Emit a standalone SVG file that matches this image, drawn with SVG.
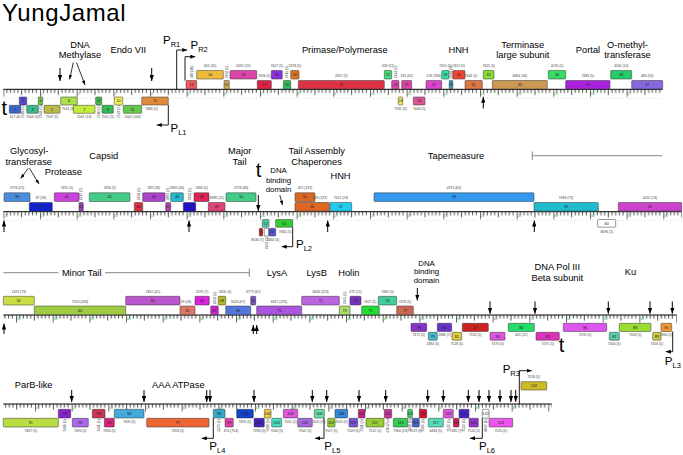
<svg xmlns="http://www.w3.org/2000/svg" width="683" height="455" viewBox="0 0 683 455">
<style>
text{font-family:"Liberation Sans",Arial,sans-serif}
#genes rect{stroke:#333;stroke-width:.5;rx:.8px}
.n{font-size:3.8px;text-anchor:middle;fill:#222}
.l{font-size:3.4px;text-anchor:middle;fill:#444}
.a{font-size:9.3px;text-anchor:middle;fill:#000}
.s{font-size:7.8px;text-anchor:middle;fill:#000}
.k{font-size:3.4px;fill:#3a3}
.t{font-size:20px;fill:#000}
.p{font-size:11.5px;fill:#000}
.ps{font-size:7.5px}
.ar{stroke:#000;stroke-width:1;fill:none;marker-end:url(#ah)}
.pt{stroke:#000;stroke-width:.8;fill:none;marker-end:url(#sh)}
.pr{stroke:#000;stroke-width:.9;fill:none;marker-end:url(#ph)}
.br{stroke:#888;stroke-width:1;fill:none}
.rl{stroke:#000;stroke-width:1}
.w{fill:#fff}
</style>
<defs>
<marker id="ah" markerUnits="userSpaceOnUse" markerWidth="6" markerHeight="4.4" refX="6" refY="2.2" orient="auto"><path d="M0,0L6,2.2L0,4.4z" fill="#000"/></marker>
<marker id="sh" markerUnits="userSpaceOnUse" markerWidth="4.5" markerHeight="3.4" refX="4.5" refY="1.7" orient="auto"><path d="M0,0L4.5,1.7L0,3.4z" fill="#000"/></marker>
<marker id="ph" markerUnits="userSpaceOnUse" markerWidth="5" markerHeight="4" refX="5" refY="2" orient="auto"><path d="M0,0L5,2L0,4z" fill="#000"/></marker>
<pattern id="tk" patternUnits="userSpaceOnUse" width="36.667" height="9">
<path d="M0.35,0V7.5M3.67,0V3.6M7.33,0V3.6M11,0V3.6M14.67,0V3.6M18.33,0V5.6M22,0V3.6M25.67,0V3.6M29.33,0V3.6M33,0V3.6" stroke="#000" stroke-width=".7"/>
</pattern>
</defs>
<rect width="683" height="455" fill="#fff"/>
<text x="2" y="20.5" font-size="24" letter-spacing="0.6">YungJamal</text>

<g id="rulers">
<g transform="translate(3.3,89.3)"><rect x="0" y="0" width="659.4" height="9" fill="url(#tk)"/><line class="rl" x1="0" x2="659.4" y1="0" y2="0"/></g>
<g transform="translate(3.3,211.7)"><rect x="0" y="0" width="678.4" height="9" fill="url(#tk)"/><line class="rl" x1="0" x2="678.4" y1="0" y2="0"/></g>
<g transform="translate(16,315)"><rect x="-12.7" y="0" width="673.4" height="9" fill="url(#tk)"/><line class="rl" x1="-12.7" x2="660.7" y1="0" y2="0"/></g>
<g transform="translate(35,404)"><rect x="-31.7" y="0" width="548.4" height="9" fill="url(#tk)"/><line class="rl" x1="-31.7" x2="516.7" y1="0" y2="0"/></g>
<g class="k">
<text x="40.8" y="94.5">1</text><text x="77.4" y="94.5">2</text><text x="114.1" y="94.5">3</text><text x="150.8" y="94.5">4</text><text x="187.4" y="94.5">5</text><text x="224.1" y="94.5">6</text><text x="260.8" y="94.5">7</text><text x="297.4" y="94.5">8</text><text x="334.1" y="94.5">9</text><text x="370.8" y="94.5">10</text><text x="407.4" y="94.5">11</text><text x="444.1" y="94.5">12</text><text x="480.8" y="94.5">13</text><text x="517.4" y="94.5">14</text><text x="554.1" y="94.5">15</text><text x="590.8" y="94.5">16</text><text x="627.4" y="94.5">17</text>
<text x="4.1" y="216.9">18</text><text x="40.8" y="216.9">19</text><text x="77.4" y="216.9">20</text><text x="114.1" y="216.9">21</text><text x="150.8" y="216.9">22</text><text x="187.4" y="216.9">23</text><text x="224.1" y="216.9">24</text><text x="260.8" y="216.9">25</text><text x="297.4" y="216.9">26</text><text x="334.1" y="216.9">27</text><text x="370.8" y="216.9">28</text><text x="407.4" y="216.9">29</text><text x="444.1" y="216.9">30</text><text x="480.8" y="216.9">31</text><text x="517.4" y="216.9">32</text><text x="554.1" y="216.9">33</text><text x="590.8" y="216.9">34</text><text x="627.4" y="216.9">35</text><text x="664.1" y="216.9">36</text>
<text x="16.8" y="320.2">37</text><text x="53.5" y="320.2">38</text><text x="90.1" y="320.2">39</text><text x="126.8" y="320.2">40</text><text x="163.5" y="320.2">41</text><text x="200.1" y="320.2">42</text><text x="236.8" y="320.2">43</text><text x="273.5" y="320.2">44</text><text x="310.1" y="320.2">45</text><text x="346.8" y="320.2">46</text><text x="383.5" y="320.2">47</text><text x="420.1" y="320.2">48</text><text x="456.8" y="320.2">49</text><text x="493.5" y="320.2">50</text><text x="530.1" y="320.2">51</text><text x="566.8" y="320.2">52</text><text x="603.5" y="320.2">53</text><text x="640.1" y="320.2">54</text>
<text x="35.8" y="409.2">56</text><text x="72.5" y="409.2">57</text><text x="109.1" y="409.2">58</text><text x="145.8" y="409.2">59</text><text x="182.5" y="409.2">60</text><text x="219.1" y="409.2">61</text><text x="255.8" y="409.2">62</text><text x="292.5" y="409.2">63</text><text x="329.1" y="409.2">64</text><text x="365.8" y="409.2">65</text><text x="402.5" y="409.2">66</text><text x="439.1" y="409.2">67</text><text x="475.8" y="409.2">68</text><text x="512.5" y="409.2">69</text>
</g>
</g>

<g id="genes">
<g id="g1"><rect x="9.3" y="105.3" width="11.4" height="8" fill="#3a66cc"/><text class="n" x="15" y="110.6">1</text><text class="l" x="15" y="118.3">417 (4)</text></g>
<g id="g2"><rect x="19.3" y="97" width="7.4" height="8" fill="#5548cc"/><text class="n" x="23" y="102.3">2</text><text class="l" transform="translate(24.2,111.8) rotate(-90)">7489 (5)</text></g>
<g id="g3"><rect x="26.7" y="105.3" width="11.6" height="8" fill="#3dba8c"/><text class="n" x="32.5" y="110.6">3</text><text class="l" x="32.5" y="118.3">7504 (5)</text></g>
<g id="g4"><rect x="38.3" y="97" width="4.4" height="8" fill="#6ccc44"/><text class="n" x="40.5" y="102.3">4</text><text class="l" transform="translate(41.7,111.8) rotate(-90)">7504 (5)</text></g>
<g id="g5"><rect x="44" y="105.3" width="16" height="8" fill="#bcbb4a"/><text class="n" x="52" y="110.6">5</text><text class="l" x="52" y="118.3">7507 (5)</text></g>
<g id="g6"><rect x="60.7" y="97" width="16.6" height="8" fill="#addf4a"/><text class="n" x="69" y="102.3">6</text><text class="l" x="68" y="109.8">7541 (3)</text></g>
<g id="g7"><rect x="73.3" y="105.3" width="21.7" height="8" fill="#c4ec3a"/><text class="n" x="84.2" y="110.6">7</text><text class="l" x="84.2" y="118.3">1561 (13)</text></g>
<g id="g8"><rect x="95.7" y="97" width="6" height="8" fill="#43b84a"/><text class="n" x="98.7" y="102.3">8</text><text class="l" transform="translate(99.9,111.8) rotate(-90)">7490 (5)</text></g>
<g id="g9"><rect x="102" y="105.3" width="11.3" height="8" fill="#34bb55"/><text class="n" x="107.7" y="110.6">9</text><text class="l" x="107.7" y="118.3">7501 (5)</text></g>
<g id="g10"><rect x="114.3" y="97" width="8.4" height="8" fill="#eeee55"/><text class="n" x="118.5" y="102.3">10</text><text class="l" transform="translate(119.7,111.8) rotate(-90)">7527 (5)</text></g>
<g id="g11"><rect x="123.3" y="105.3" width="18.4" height="8" fill="#66c84a"/><text class="n" x="132.5" y="110.6">11</text><text class="l" x="132.5" y="118.3">1502 (100)</text></g>
<g id="g12"><rect x="141.7" y="97" width="26.6" height="8" fill="#dd8a3a"/><text class="n" x="155" y="102.3">12</text><text class="l" x="151.5" y="109.8">7484 (5)</text></g>
<g id="g13"><rect x="186" y="80.5" width="10.7" height="8.5" fill="#ee5a5a"/><text class="n" x="191.3" y="86.1">13</text><text class="l" transform="translate(192.5,72) rotate(-90)">440 (40)</text></g>
<g id="g14"><rect x="196.7" y="70.5" width="26.6" height="8.5" fill="#efbb3a"/><text class="n" x="210" y="76.1">14</text><text class="l" x="210" y="67.3">441 (45)</text></g>
<g id="g15"><rect x="224" y="80.5" width="5.3" height="8.5" fill="#ccaa5a"/><text class="n" x="226.6" y="86.1">15</text><text class="l" transform="translate(227.9,72) rotate(-90)">7492 (5)</text></g>
<g id="g16"><rect x="230" y="70.5" width="26.7" height="8.5" fill="#dd44aa"/><text class="n" x="243.3" y="76.1">16</text><text class="l" x="243.3" y="67.3">4292 (15)</text></g>
<g id="g17"><rect x="257.3" y="80.5" width="14" height="8.5" fill="#dd2244"/><text class="n" x="264.3" y="86.1">17</text><text class="l" x="264.3" y="77.3">7436 (5)</text></g>
<g id="g18"><rect x="271.3" y="70.5" width="11" height="8.5" fill="#8a33dd"/><text class="n" x="276.8" y="76.1">18</text><text class="l" x="276.8" y="67.3">7407 (5)</text></g>
<g id="g19"><rect x="283.3" y="80.5" width="7.4" height="8.5" fill="#33bb55"/><text class="n" x="287" y="86.1">19</text><text class="l" transform="translate(288.2,72) rotate(-90)">7415 (5)</text></g>
<g id="g20"><rect x="290.7" y="70.5" width="8.3" height="8.5" fill="#dd7722"/><text class="n" x="294.8" y="76.1">20</text><text class="l" x="294.8" y="67.3">7418 (5)</text></g>
<g id="g21"><rect x="298.3" y="80.5" width="86" height="8.5" fill="#dd3344"/><text class="n" x="341.3" y="86.1">21</text><text class="l" x="341.3" y="77.3">2367 (5)</text></g>
<g id="g22"><rect x="384.3" y="70.5" width="7.4" height="8.5" fill="#44dd77"/><text class="n" x="388" y="76.1">22</text><text class="l" x="388" y="67.3">458 (11)</text></g>
<g id="g23"><rect x="391.7" y="80.5" width="7.3" height="8.5" fill="#dd44aa"/><text class="n" x="395.3" y="86.1">23</text><text class="l" transform="translate(396.5,72) rotate(-90)">7443 (5)</text></g>
<g id="g24"><rect x="398.3" y="97" width="4.4" height="8" fill="#eeee55"/><text class="n" x="400.5" y="102.3">24</text><text class="l" x="400.5" y="109.8">7331 (3)</text></g>
<g id="g25"><rect x="401.7" y="80.5" width="10" height="8.5" fill="#dd44aa"/><text class="n" x="406.7" y="86.1">25</text><text class="l" x="406.7" y="77.3">135 (32)</text></g>
<g id="g26"><rect x="413.3" y="97" width="11.7" height="8" fill="#dd5599"/><text class="n" x="419.2" y="102.3">26</text><text class="l" x="419.2" y="109.8">7446 (5)</text></g>
<g id="g27"><rect x="426" y="80.5" width="15.7" height="8.5" fill="#dd44cc"/><text class="n" x="433.8" y="86.1">27</text><text class="l" x="433.8" y="77.3">476 (784)</text></g>
<g id="g28"><rect x="441.7" y="70.5" width="7.3" height="8.5" fill="#33ddaa"/><text class="n" x="445.3" y="76.1">28</text><text class="l" x="445.3" y="67.3">7451 (5)</text></g>
<g id="g29"><rect x="449.2" y="80.5" width="3.6" height="8.5" fill="#3399bb"/><text class="n" x="451" y="86.1">29</text><text class="l" transform="translate(452.2,72) rotate(-90)">7448 (5)</text></g>
<g id="g30"><rect x="452.7" y="70.5" width="12.3" height="8.5" fill="#ee4433"/><text class="n" x="458.8" y="76.1">30</text><text class="l" x="458.8" y="67.3">7452 (5)</text></g>
<g id="g31"><rect x="465" y="80.5" width="17.3" height="8.5" fill="#dd7744"/><text class="n" x="473.6" y="86.1">31</text><text class="l" x="471" y="77.3">7444 (5)</text></g>
<g id="g32"><rect x="483.3" y="70.5" width="10.7" height="8.5" fill="#88dd33"/><text class="n" x="488.7" y="76.1">32</text><text class="l" x="488.7" y="67.3">7455 (5)</text></g>
<g id="g33"><rect x="492.3" y="80.5" width="55" height="8.5" fill="#cc9955"/><text class="n" x="519.8" y="86.1">33</text><text class="l" x="519.8" y="77.3">6864 (34)</text></g>
<g id="g34"><rect x="548.3" y="70.5" width="17.4" height="8.5" fill="#33dd66"/><text class="n" x="557" y="76.1">34</text><text class="l" x="557" y="67.3">2070 (5)</text></g>
<g id="g35"><rect x="565.7" y="80.5" width="44.3" height="8.5" fill="#aa22dd"/><text class="n" x="587.8" y="86.1">35</text><text class="l" x="587.8" y="77.3">7486 (5)</text></g>
<g id="g36"><rect x="610.7" y="70.5" width="21" height="8.5" fill="#22cc66"/><text class="n" x="621.2" y="76.1">36</text><text class="l" x="621.2" y="67.3">4160 (14)</text></g>
<g id="g37"><rect x="631.7" y="80.5" width="31" height="8.5" fill="#8866dd"/><text class="n" x="647.2" y="86.1">37</text><text class="l" x="647.2" y="77.3">486 (16)</text></g>
<g id="g38"><rect x="4" y="192.8" width="26" height="8.7" fill="#4a8ddd"/><text class="n" x="17" y="198.4">38</text><text class="l" x="17" y="189">1976 (21)</text></g>
<g id="g39"><rect x="29.3" y="202.5" width="23" height="8.7" fill="#1122cc"/><text class="n" x="40.8" y="208.1">39</text><text class="l" x="41" y="199">87 (58)</text></g>
<g id="g40"><rect x="54.3" y="192.8" width="24.7" height="8.7" fill="#cc44dd"/><text class="n" x="66.7" y="198.4">40</text><text class="l" x="66.7" y="189">7455 (5)</text></g>
<g id="g41"><rect x="79" y="202.5" width="4.3" height="8.7" fill="#9944bb"/><text class="n" x="81.2" y="208.1">41</text><text class="l" transform="translate(82.4,194) rotate(-90)">2217 (7)</text></g>
<g id="g42"><rect x="89.3" y="192.8" width="40.7" height="8.7" fill="#44cc88"/><text class="n" x="109.7" y="198.4">42</text><text class="l" x="109.7" y="189">7490 (5)</text></g>
<g id="g43"><rect x="134.3" y="202.5" width="8.4" height="8.7" fill="#dd3344"/><text class="n" x="138.5" y="208.1">43</text><text class="l" transform="translate(139.7,194) rotate(-90)">7493 (5)</text></g>
<g id="g44"><rect x="142.7" y="192.8" width="22.3" height="8.7" fill="#aa44cc"/><text class="n" x="153.8" y="198.4">44</text><text class="l" x="153.8" y="189">339 (28)</text></g>
<g id="g45"><rect x="165.7" y="202.5" width="5" height="8.7" fill="#bb44bb"/><text class="n" x="168.2" y="208.1">45</text><text class="l" transform="translate(169.4,194) rotate(-90)">4887 (7)</text></g>
<g id="g46"><rect x="170.7" y="192.8" width="12.6" height="8.7" fill="#22bbcc"/><text class="n" x="177" y="198.4">46</text><text class="l" x="177" y="189">1890 (30)</text></g>
<g id="g47"><rect x="183.3" y="202.5" width="12.4" height="8.7" fill="#2211cc"/><text class="n" x="189.5" y="208.1">47</text><text class="l" transform="translate(190.7,194) rotate(-90)">7493 (5)</text></g>
<g id="g48"><rect x="194" y="192.8" width="15" height="8.7" fill="#dd2255"/><text class="n" x="201.5" y="198.4">48</text><text class="l" x="201.5" y="189">7463 (5)</text></g>
<g id="g49"><rect x="208.3" y="202.5" width="16.7" height="8.7" fill="#dd4477"/><text class="n" x="216.7" y="208.1">49</text><text class="l" x="217" y="199">8885 (11)</text></g>
<g id="g50"><rect x="226" y="192.8" width="30" height="8.7" fill="#44cc88"/><text class="n" x="241" y="198.4">50</text><text class="l" x="241" y="189">1978 (48)</text></g>
<g id="g51"><rect x="259.3" y="228.3" width="3.4" height="7.7" fill="#cc2222"/><text class="n" x="261" y="233.4">51</text><text class="l" x="257.5" y="240.5">8530 (7)</text></g>
<g id="g52"><rect x="262.3" y="219.5" width="6.7" height="7.7" fill="#55ccaa"/><text class="n" x="265.7" y="224.6">52</text></g>
<g id="g53"><rect class="w" x="264.3" y="228.3" width="4.3" height="7.7"/><text class="l" transform="translate(267.6,243) rotate(-90)">7463 (5)</text></g>
<g id="g53b"><rect x="269" y="228.3" width="6.7" height="7.7" fill="#5555dd"/><text class="n" x="272.3" y="233.4">53</text><text class="l" x="273" y="240.5">7464 (5)</text></g>
<g id="g54"><rect x="275.7" y="219.5" width="17" height="7.7" fill="#33cc33"/><text class="n" x="284.2" y="224.6">54</text><text class="l" x="285" y="232.7">7465 (5)</text></g>
<g id="g55"><rect x="295" y="192.8" width="20" height="8.7" fill="#dd6622"/><text class="n" x="305" y="198.4">55</text><text class="l" x="305" y="189">491 (137)</text></g>
<g id="g56"><rect x="295" y="202.5" width="34.3" height="8.7" fill="#dd6622"/><text class="n" x="312" y="208.1">56</text><text class="l" x="320" y="199">458 (137)</text></g>
<g id="g57"><rect x="330" y="202.5" width="21.7" height="8.7" fill="#22ccee"/><text class="n" x="340.8" y="208.1">57</text><text class="l" x="341" y="199">7501 (13)</text></g>
<g id="g58"><rect x="374" y="192.8" width="160" height="8.7" fill="#3399ee"/><text class="n" x="454" y="198.4">58</text><text class="l" x="454" y="189">4791 (65)</text></g>
<g id="g59"><rect x="534" y="202.5" width="64.3" height="8.7" fill="#22bbcc"/><text class="n" x="566" y="208.1">59</text><text class="l" x="566" y="199">1984 (73)</text></g>
<g id="g60"><rect class="w" x="597.7" y="219.5" width="18" height="7.7"/><text class="n" x="606.7" y="224.6">60</text><text class="l" x="606.7" y="232.7">8096 (1)</text></g>
<g id="g61"><rect x="618.3" y="202.5" width="63.4" height="8.7" fill="#cc44cc"/><text class="n" x="650" y="208.1">61</text><text class="l" x="650" y="199">4050 (74)</text></g>
<g id="g62"><rect x="3.3" y="296.3" width="31" height="8.7" fill="#ccdd44"/><text class="n" x="18.8" y="301.9">62</text><text class="l" x="18.8" y="292.5">1424 (73)</text></g>
<g id="g63"><rect x="34.3" y="306" width="91.4" height="8.7" fill="#a0cc44"/><text class="n" x="80" y="311.6">63</text><text class="l" x="80" y="302.5">7543 (358)</text></g>
<g id="g64"><rect x="125.7" y="296.3" width="54.3" height="8.7" fill="#bb55cc"/><text class="n" x="152.8" y="301.9">64</text><text class="l" x="152.8" y="292.5">1855 (41)</text></g>
<g id="g65"><rect x="180" y="306" width="15" height="8.7" fill="#dd7766"/><text class="n" x="187.5" y="311.6">65</text><text class="l" x="186" y="302.5">29 (43)</text></g>
<g id="g66"><rect x="195" y="296.3" width="14.3" height="8.7" fill="#dd22dd"/><text class="n" x="202" y="301.9">66</text><text class="l" x="202" y="292.5">2379 (7)</text></g>
<g id="g67"><rect x="210.7" y="306" width="7.6" height="8.7" fill="#cc22cc"/><text class="n" x="214.5" y="311.6">67</text><text class="l" transform="translate(215.7,298) rotate(-90)">2369 (5)</text></g>
<g id="g68"><rect x="218.3" y="296.3" width="7.4" height="8.7" fill="#bbbb22"/><text class="n" x="222" y="301.9">68</text><text class="l" x="225" y="292.5">1856 (3)</text></g>
<g id="g69"><rect x="225.7" y="306" width="25" height="8.7" fill="#5577dd"/><text class="n" x="238.2" y="311.6">69</text><text class="l" x="238" y="302.5">1626 (67)</text></g>
<g id="g70"><rect x="250.7" y="296.3" width="5" height="8.7" fill="#7755cc"/><text class="n" x="253.2" y="301.9">70</text><text class="l" x="253.5" y="292.5">6779 (67)</text></g>
<g id="g71"><rect x="256.7" y="306" width="45" height="8.7" fill="#aa55dd"/><text class="n" x="279.2" y="311.6">71</text><text class="l" x="279" y="302.5">6821 (295)</text></g>
<g id="g72"><rect x="301.7" y="296.3" width="37.6" height="8.7" fill="#bb66dd"/><text class="n" x="320.5" y="301.9">72</text><text class="l" x="320.5" y="292.5">3634 (223)</text></g>
<g id="g73"><rect x="339.3" y="306" width="10.7" height="8.7" fill="#aadd66"/><text class="n" x="344.6" y="311.6">73</text><text class="l" transform="translate(345.7,298) rotate(-90)">7465 (5)</text></g>
<g id="g74"><rect x="350" y="296.3" width="11" height="8.7" fill="#7733bb"/><text class="n" x="355.5" y="301.9">74</text><text class="l" x="355.5" y="292.5">475 (11)</text></g>
<g id="g75"><rect x="361.7" y="306" width="17.6" height="8.7" fill="#22dd33"/><text class="n" x="370.5" y="311.6">75</text><text class="l" x="370" y="302.5">7407 (5)</text></g>
<g id="g76"><rect x="378.3" y="296.3" width="18.4" height="8.7" fill="#44cc99"/><text class="n" x="387.5" y="301.9">76</text><text class="l" x="387.5" y="292.5">7469 (5)</text></g>
<g id="g77"><rect x="396.7" y="306" width="16.6" height="8.7" fill="#cc6655"/><text class="n" x="405" y="311.6">77</text><text class="l" x="405" y="302.5">7476 (5)</text></g>
<g id="g78"><rect x="411" y="323.3" width="15.7" height="8.2" fill="#8833cc"/><text class="n" x="418.8" y="328.7">78</text><text class="l" x="418.8" y="336">7472 (5)</text></g>
<g id="g79"><rect x="428.3" y="332.3" width="9" height="7.9" fill="#44bbcc"/><text class="n" x="432.8" y="337.5">79</text><text class="l" x="432.8" y="344.7">2384 (5)</text></g>
<g id="g80"><rect x="437.3" y="323.3" width="14.4" height="8.2" fill="#6633cc"/><text class="n" x="444.5" y="328.7">80</text><text class="l" x="444.5" y="336">2386 (7)</text></g>
<g id="g81"><rect x="452" y="332.3" width="9.7" height="7.9" fill="#ddcc44"/><text class="n" x="456.8" y="337.5">81</text><text class="l" x="456.8" y="344.7">7528 (5)</text></g>
<g id="g82"><rect x="462.3" y="323.3" width="26" height="8.2" fill="#cc2222"/><text class="n" x="475.3" y="328.7">82</text><text class="l" x="475.3" y="336">7532 (5)</text></g>
<g id="g83"><rect x="490" y="332.3" width="15" height="7.9" fill="#dd55dd"/><text class="n" x="497.5" y="337.5">83</text><text class="l" x="497.5" y="344.7">7473 (5)</text></g>
<g id="g84"><rect x="508.3" y="323.3" width="26" height="8.2" fill="#22dd66"/><text class="n" x="521.3" y="328.7">84</text><text class="l" x="521.3" y="336">405 (12)</text></g>
<g id="g85"><rect x="536" y="332.3" width="23.3" height="7.9" fill="#dd33bb"/><text class="n" x="547.7" y="337.5">85</text><text class="l" x="547.7" y="344.7">7475 (5)</text></g>
<g id="g86"><rect x="563.3" y="323.3" width="43.4" height="8.2" fill="#dd55ee"/><text class="n" x="585" y="328.7">86</text><text class="l" x="585" y="336">7476 (5)</text></g>
<g id="g87"><rect x="609.3" y="332.3" width="10" height="7.9" fill="#55ccaa"/><text class="n" x="614.3" y="337.5">87</text><text class="l" x="614.3" y="344.7">7440 (5)</text></g>
<g id="g88"><rect x="619.3" y="323.3" width="31.7" height="8.2" fill="#99dd33"/><text class="n" x="635.2" y="328.7">88</text><text class="l" x="635.2" y="336">7403 (5)</text></g>
<g id="g89"><rect x="652.7" y="332.3" width="8.3" height="7.9" fill="#cccc44"/><text class="n" x="656.8" y="337.5">89</text><text class="l" x="656.8" y="344.7">7456 (5)</text></g>
<g id="g90"><rect x="661" y="323.3" width="10.7" height="8.2" fill="#ee9933"/><text class="n" x="666.3" y="328.7">90</text><text class="l" x="666.3" y="336">7460 (5)</text></g>
<g id="g91"><rect x="3.3" y="418.3" width="55" height="8.7" fill="#bbdd44"/><text class="n" x="30.8" y="423.9">91</text><text class="l" x="30.8" y="432">7467 (5)</text></g>
<g id="g92"><rect x="58.3" y="409.3" width="12.4" height="8.7" fill="#8822cc"/><text class="n" x="64.5" y="414.9">92</text><text class="l" transform="translate(65.7,425.5) rotate(-90)">7489 (5)</text></g>
<g id="g93"><rect x="72.3" y="418.3" width="16" height="8.7" fill="#aa66ee"/><text class="n" x="80.3" y="423.9">93</text><text class="l" x="80.3" y="432">7490 (5)</text></g>
<g id="g94"><rect x="92.3" y="409.3" width="12.7" height="8.7" fill="#cc3355"/><text class="n" x="98.7" y="414.9">94</text><text class="l" transform="translate(99.9,425.5) rotate(-90)">7491 (5)</text></g>
<g id="g95"><rect x="104.3" y="418.3" width="10" height="8.7" fill="#dd2277"/><text class="n" x="109.3" y="423.9">95</text><text class="l" x="109.3" y="432">7490 (5)</text></g>
<g id="g96"><rect x="114.3" y="409.3" width="29.7" height="8.7" fill="#44aadd"/><text class="n" x="129.2" y="414.9">96</text><text class="l" x="129.2" y="422.7">7409 (5)</text></g>
<g id="g97"><rect x="146.7" y="418.3" width="62.3" height="8.7" fill="#ee6633"/><text class="n" x="177.8" y="423.9">97</text><text class="l" x="177.8" y="432">7494 (5)</text></g>
<g id="g98"><rect x="213.3" y="409.3" width="11.7" height="8.7" fill="#33aacc"/><text class="n" x="219.2" y="414.9">98</text><text class="l" transform="translate(220.4,425.5) rotate(-90)">2373 (7)</text></g>
<g id="g99"><rect x="225" y="418.3" width="8.3" height="8.7" fill="#dd44aa"/><text class="n" x="229.2" y="423.9">99</text><text class="l" x="231" y="432">470 (754)</text></g>
<g id="g100"><rect x="236.7" y="409.3" width="16.6" height="8.7" fill="#1144cc"/><text class="n" x="245" y="414.9">100</text><text class="l" x="245" y="422.7">7495 (5)</text></g>
<g id="g101"><rect x="254" y="418.3" width="10.3" height="8.7" fill="#4422bb"/><text class="n" x="259.2" y="423.9">101</text><text class="l" x="259.2" y="432">7496 (5)</text></g>
<g id="g102"><rect x="264.3" y="409.3" width="6.7" height="8.7" fill="#eecc44"/><text class="n" x="267.7" y="414.9">102</text><text class="l" transform="translate(268.9,425.5) rotate(-90)">7499 (5)</text></g>
<g id="g103"><rect x="271.7" y="418.3" width="10" height="8.7" fill="#44ddbb"/><text class="n" x="276.7" y="423.9">103</text><text class="l" x="276.7" y="432">7500 (5)</text></g>
<g id="g104"><rect x="283.3" y="409.3" width="14.4" height="8.7" fill="#dd55dd"/><text class="n" x="290.5" y="414.9">104</text><text class="l" x="290.5" y="422.7">7501 (5)</text></g>
<g id="g105"><rect x="297.7" y="418.3" width="14.6" height="8.7" fill="#aa66dd"/><text class="n" x="305" y="423.9">105</text><text class="l" x="305" y="432">7502 (5)</text></g>
<g id="g106"><rect x="314.3" y="409.3" width="10" height="8.7" fill="#66ddaa"/><text class="n" x="319.3" y="414.9">106</text><text class="l" x="319.3" y="422.7">424 (10)</text></g>
<g id="g107"><rect x="327.7" y="418.3" width="7.3" height="8.7" fill="#99cc33"/><text class="n" x="331.3" y="423.9">107</text><text class="l" x="331.3" y="432">7507 (5)</text></g>
<g id="g108"><rect x="335" y="409.3" width="12.7" height="8.7" fill="#3388dd"/><text class="n" x="341.3" y="414.9">108</text><text class="l" x="341.3" y="422.7">7505 (5)</text></g>
<g id="g109"><rect x="349" y="418.3" width="8.7" height="8.7" fill="#7755dd"/><text class="n" x="353.3" y="423.9">109</text><text class="l" x="353.3" y="432">7509 (5)</text></g>
<g id="g110"><rect x="358.3" y="409.3" width="6.7" height="8.7" fill="#cc2288"/><text class="n" x="361.7" y="414.9">110</text><text class="l" transform="translate(362.9,425.5) rotate(-90)">7511 (5)</text></g>
<g id="g111"><rect x="366" y="418.3" width="18" height="8.7" fill="#99cc33"/><text class="n" x="375" y="423.9">111</text><text class="l" x="375" y="432">7512 (5)</text></g>
<g id="g112"><rect x="384.3" y="409.3" width="7.4" height="8.7" fill="#cc3399"/><text class="n" x="388" y="414.9">112</text><text class="l" transform="translate(389.2,425.5) rotate(-90)">470 (754)</text></g>
<g id="g113"><rect x="393.3" y="418.3" width="14.4" height="8.7" fill="#33cc55"/><text class="n" x="400.5" y="423.9">113</text><text class="l" x="400.5" y="432">7360 (15)</text></g>
<g id="g114"><rect x="407.7" y="409.3" width="4.6" height="8.7" fill="#44cc66"/><text class="n" x="410" y="414.9">114</text><text class="l" transform="translate(411.2,425.5) rotate(-90)">7518 (5)</text></g>
<g id="g115"><rect x="412.3" y="418.3" width="7" height="8.7" fill="#4466cc"/><text class="n" x="415.8" y="423.9">115</text><text class="l" x="415.8" y="432">7519 (5)</text></g>
<g id="g116"><rect x="419.3" y="409.3" width="7.4" height="8.7" fill="#dd1133"/><text class="n" x="423" y="414.9">116</text><text class="l" transform="translate(424.2,425.5) rotate(-90)">7505 (5)</text></g>
<g id="g117"><rect x="428.3" y="418.3" width="15" height="8.7" fill="#55ddbb"/><text class="n" x="435.8" y="423.9">117</text><text class="l" x="435.8" y="432">6484 (5)</text></g>
<g id="g118"><rect x="443.3" y="409.3" width="10" height="8.7" fill="#dd55dd"/><text class="n" x="448.3" y="414.9">118</text><text class="l" transform="translate(449.5,425.5) rotate(-90)">7522 (5)</text></g>
<g id="g119"><rect x="453.3" y="418.3" width="5.7" height="8.7" fill="#cc2255"/><text class="n" x="456.2" y="423.9">119</text><text class="l" x="456" y="432">7381 (7)</text></g>
<g id="g120"><rect x="459" y="409.3" width="10" height="8.7" fill="#4422cc"/><text class="n" x="464" y="414.9">120</text><text class="l" transform="translate(465.2,425.5) rotate(-90)">7523 (5)</text></g>
<g id="g121"><rect x="469" y="418.3" width="9.3" height="8.7" fill="#9933cc"/><text class="n" x="473.7" y="423.9">121</text><text class="l" x="473.7" y="432">7524 (5)</text></g>
<g id="g122"><rect class="w" x="482.3" y="409.3" width="6.7" height="8.7"/><text class="n" x="485.7" y="414.9">122</text><text class="l" transform="translate(486.9,425.5) rotate(-90)">8097 (1)</text></g>
<g id="g123"><rect x="489" y="418.3" width="23.7" height="8.7" fill="#ee55ee"/><text class="n" x="500.8" y="423.9">123</text><text class="l" x="500.8" y="432">7525 (5)</text></g>
<g id="g124"><rect x="521" y="381.7" width="25.7" height="8.3" fill="#ccbb22"/><text class="n" x="533.8" y="387.1">124</text><text class="l" x="533.8" y="378">7526 (5)</text></g>
</g>

<g id="labels">
<text class="a" x="80" y="48.3">DNA</text><text class="a" x="80" y="57.7">Methylase</text>
<text class="a" x="128.3" y="53.3">Endo VII</text>
<text class="a" x="344.8" y="53.3">Primase/Polymerase</text>
<text class="a" x="458.5" y="53">HNH</text>
<text class="a" x="522.7" y="47.7">Terminase</text><text class="a" x="522.8" y="58.3">large subunit</text>
<text class="a" x="588" y="53.3">Portal</text>
<text class="a" x="627.5" y="47.7">O-methyl-</text><text class="a" x="627.5" y="58.3">transferase</text>
<text class="a" x="29.2" y="154.3">Glycosyl-</text><text class="a" x="28.7" y="165">transferase</text>
<text class="a" x="63.3" y="175">Protease</text>
<text class="a" x="103.8" y="159">Capsid</text>
<text class="a" x="239.7" y="154">Major</text><text class="a" x="239.5" y="165">Tail</text>
<text class="a" x="316.7" y="154">Tail Assembly</text><text class="a" x="316.5" y="165">Chaperones</text>
<text class="s" x="278.5" y="173.3">DNA</text><text class="s" x="278.5" y="182.5">binding</text><text class="s" x="278.5" y="191.5">domain</text>
<text class="a" x="340.5" y="179.3">HNH</text>
<text class="a" x="456" y="159.3">Tapemeasure</text>
<text class="a" x="81.7" y="276">Minor Tail</text>
<text class="a" x="277" y="276">LysA</text><text class="a" x="316.7" y="276">LysB</text><text class="a" x="348.8" y="276">Holin</text>
<text class="s" x="426.5" y="265.7">DNA</text><text class="s" x="426.5" y="274.3">binding</text><text class="s" x="426.5" y="282.7">domain</text>
<text class="a" x="557.3" y="270" text-anchor="start">DNA Pol III</text><text class="a" x="557.3" y="281" text-anchor="start">Beta subunit</text>
<text class="a" x="630.5" y="275">Ku</text>
<text class="a" x="33.7" y="387.7">ParB-like</text>
<text class="a" x="178.3" y="387.7">AAA ATPase</text>
<text class="t" x="1.5" y="114.5">t</text>
<text class="t" x="255.8" y="176.7">t</text>
<text class="t" x="558.8" y="351.5">t</text>
<text class="p" x="163" y="43.5">P<tspan class="ps" dy="3">R1</tspan></text>
<text class="p" x="190.5" y="49.3">P<tspan class="ps" dy="3">R2</tspan></text>
<text class="p" x="170.5" y="131.7">P<tspan class="ps" dy="3">L1</tspan></text>
<text class="p" x="296" y="248.3">P<tspan class="ps" dy="3">L2</tspan></text>
<text class="p" x="664.8" y="365">P<tspan class="ps" dy="3">L3</tspan></text>
<text class="p" x="209.3" y="450.3">P<tspan class="ps" dy="2.5">L4</tspan></text>
<text class="p" x="324.3" y="450.3">P<tspan class="ps" dy="2.5">L5</tspan></text>
<text class="p" x="479" y="450.3">P<tspan class="ps" dy="2.5">L6</tspan></text>
<text class="p" x="502.7" y="373.3">P<tspan class="ps" dy="3">R3</tspan></text>
</g>

<g id="connectors">
<path class="br" d="M532.3,155.7H662.3M532.3,151.5V160"/>
<path class="br" d="M3.3,272.7H58.3M105,272.7H249.3M249.3,268.5V277"/>
<path class="pt" d="M73.3,62.5L69.6,79.5"/><path class="pt" d="M76.5,62.5L85,85"/>
<path class="pt" d="M28.3,168.3L20.7,178.5"/><path class="pt" d="M29.5,168.3L39,184"/>
<path class="pt" d="M279.8,195L282.5,205"/>
<path class="ar" d="M417.3,288V300.5"/>
<path class="ar" d="M60,68V81"/><path class="ar" d="M151.7,68V81"/>
<path class="ar" d="M483.3,108.5V96.8"/>
<path class="ar" d="M258.3,195V211"/>
<path class="ar" d="M4,232V220.5"/><path class="ar" d="M189,232V220.5"/><path class="ar" d="M327.7,232V220.5"/><path class="ar" d="M534.3,232V220.5"/>
<path class="ar" d="M490,301.5V313.8"/><path class="ar" d="M535,301.5V313.8"/><path class="ar" d="M608.3,301.5V313.8"/><path class="ar" d="M650,301.5V313.8"/><path class="ar" d="M672.3,301.5V313.8"/>
<path class="ar" d="M4,334V323.5"/><path class="ar" d="M253.3,334V325"/><path class="ar" d="M256.7,334V325"/>
<path class="ar" d="M71.7,390V402"/><path class="ar" d="M144,390V402"/><path class="ar" d="M206.7,390V402"/><path class="ar" d="M210,390V402"/><path class="ar" d="M254,390V402"/><path class="ar" d="M312.3,390V402"/><path class="ar" d="M326.7,390V402"/><path class="ar" d="M359,390V402"/><path class="ar" d="M385.7,390V402"/><path class="ar" d="M427.7,390V402"/><path class="ar" d="M443.3,390V402"/><path class="ar" d="M468.3,390V402"/><path class="ar" d="M479,390V402"/><path class="ar" d="M489,390V402"/><path class="ar" d="M500,390V402"/><path class="ar" d="M511,390V402"/><path class="ar" d="M515.7,390V402"/>
<path class="pr" d="M176.7,89.3V50H187.3"/>
<path class="pr" d="M185,80.5V56.7H195.3"/>
<path class="pr" d="M168.3,105V125H156.7"/>
<path class="pr" d="M292.7,227.2V246.7H281.7"/>
<path class="pr" d="M672.7,331.5V351.7H665.8"/>
<path class="pr" d="M213.3,418V438.3H201.7"/>
<path class="pr" d="M324,418V438.3H315"/>
<path class="pr" d="M482.3,418V438.3H470"/>
<path class="pr" d="M519.3,404V370.7H531.7"/>
</g>
</svg>
